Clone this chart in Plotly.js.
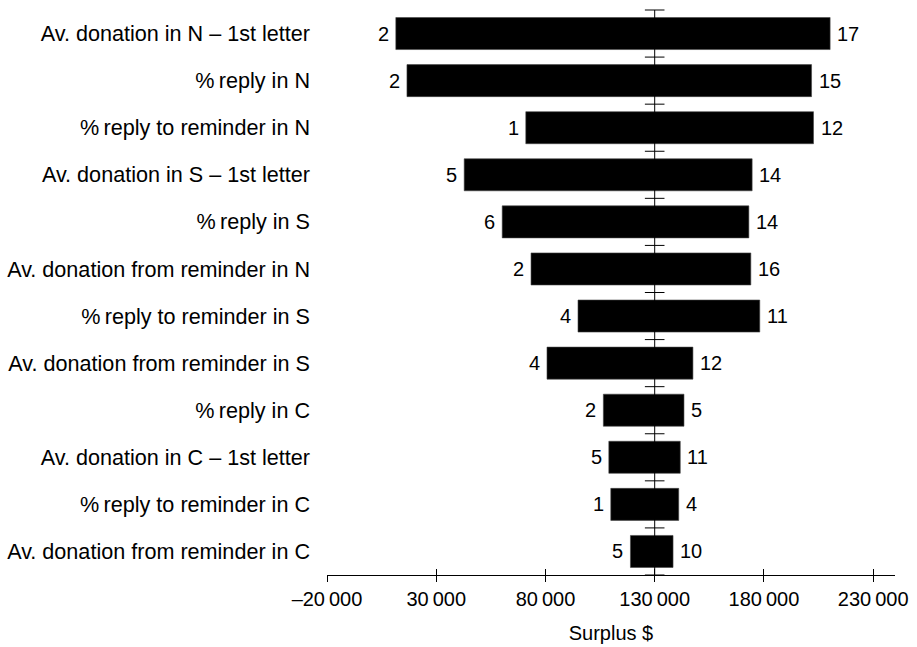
<!DOCTYPE html>
<html>
<head>
<meta charset="utf-8">
<script src="https://cdn.plot.ly/plotly-3.0.1.min.js"></script>
<style>html,body{margin:0;padding:0;background:#fff;}#chart{width:917px;height:647px;}</style>
</head>
<body>
<div id="chart"></div>
<script>
const categories = [
  "Av. donation in N \u2013 1st letter",
  "%\u2009reply in N",
  "%\u2009reply to reminder in N",
  "Av. donation in S \u2013 1st letter",
  "%\u2009reply in S",
  "Av. donation from reminder in N",
  "%\u2009reply to reminder in S",
  "Av. donation from reminder in S",
  "%\u2009reply in C",
  "Av. donation in C \u2013 1st letter",
  "%\u2009reply to reminder in C",
  "Av. donation from reminder in C"
];
const lowSurplus  = [11500, 16600, 71000, 42800, 60200, 73400, 94900, 80700, 106500, 109000, 109900, 118900];
const highSurplus = [210300, 201800, 202700, 174600, 173100, 174000, 178100, 147500, 143400, 141700, 141000, 138400];
const lowLabels  = ["2", "2", "1", "5", "6", "2", "4", "4", "2", "5", "1", "5"];
const highLabels = ["17", "15", "12", "14", "14", "16", "11", "12", "5", "11", "4", "10"];
const baseSurplus = 130000;
const xTickVals = [-20000, 30000, 80000, 130000, 180000, 230000];
const xTickText = ["\u201320\u2009000", "30\u2009000", "80\u2009000", "130\u2009000", "180\u2009000", "230\u2009000"];

const idx = categories.map((_, i) => i);
const FONT = "Liberation Sans, Arial, Helvetica, sans-serif";

const barTrace = {
  type: "bar",
  orientation: "h",
  y: idx,
  base: lowSurplus,
  x: highSurplus.map((h, i) => h - lowSurplus[i]),
  width: 0.68,
  marker: {color: "#000", line: {color: "#444", width: 0.6}},
  hoverinfo: "skip",
  showlegend: false
};

const boundaries = [];
for (let i = 0; i <= categories.length; i++) boundaries.push(i - 0.5);
const centerTrace = {
  type: "scatter",
  mode: "lines+markers",
  x: boundaries.map(() => baseSurplus),
  y: boundaries,
  line: {color: "#000", width: 1},
  marker: {symbol: "line-ew", size: 14, line: {color: "#000", width: 1}},
  hoverinfo: "skip",
  showlegend: false,
  cliponaxis: false
};

const annotations = [];
idx.forEach(i => {
  annotations.push({x: lowSurplus[i], y: i, xref: "x", yref: "y", text: lowLabels[i],
    showarrow: false, xanchor: "right", xshift: -5, font: {family: FONT, size: 20, color: "#000"}});
  annotations.push({x: highSurplus[i], y: i, xref: "x", yref: "y", text: highLabels[i],
    showarrow: false, xanchor: "left", xshift: 5, font: {family: FONT, size: 20, color: "#000"}});
});

const layout = {
  width: 917, height: 647,
  margin: {l: 327, r: 22, t: 10, b: 72},
  paper_bgcolor: "#fff", plot_bgcolor: "#fff",
  font: {family: FONT, size: 20, color: "#000"},
  xaxis: {
    range: [-20000, 240000],
    tickvals: xTickVals, ticktext: xTickText,
    ticks: "outside", ticklen: 6, tickwidth: 1, tickcolor: "#000",
    showline: true, linecolor: "#000", linewidth: 1,
    showgrid: false, zeroline: false,
    tickfont: {family: FONT, size: 20, color: "#000"},
    title: {text: "Surplus $", font: {family: FONT, size: 20, color: "#000"}, standoff: 16}
  },
  xaxis2: {
    overlaying: "x", matches: "x", side: "bottom",
    range: [-20000, 240000],
    tickvals: xTickVals, ticks: "inside", ticklen: 6, tickwidth: 1, tickcolor: "#000",
    showticklabels: false, showgrid: false, zeroline: false, showline: false
  },
  yaxis: {
    range: [11.5, -0.5],
    tickvals: idx, ticktext: categories,
    ticks: "", showline: false, showgrid: false, zeroline: false,
    ticklabelstandoff: 16,
    tickfont: {family: FONT, size: 21.6, color: "#000"}
  },
  annotations: annotations,
  bargap: 0
};

const dummy = {type: "scatter", x: [null], y: [null], xaxis: "x2", yaxis: "y", showlegend: false, hoverinfo: "skip"};

Plotly.newPlot("chart", [barTrace, centerTrace, dummy], layout, {staticPlot: true, displayModeBar: false});
</script>
</body>
</html>
